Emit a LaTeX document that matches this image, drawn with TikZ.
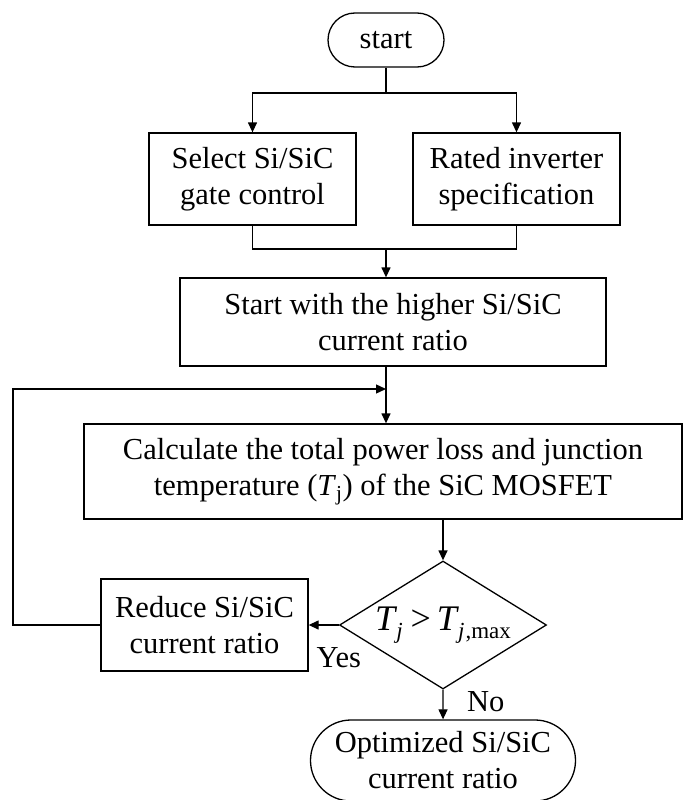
\documentclass[tikz,border=0pt]{standalone}
\usepackage{fontspec}
\setmainfont{Liberation Serif}
\usepackage{tikz}
\usetikzlibrary{arrows.meta, positioning, shapes.geometric, shapes.misc}

\newcommand{\subj}[1]{\raisebox{-8pt}{\fontsize{23}{26}\selectfont #1}}

\begin{document}
\begin{tikzpicture}[
  x=1pt, y=-1pt,
  every node/.style={font=\fontsize{30.5}{36}\selectfont},
  box/.style={draw, line width=1.3pt, align=center, inner sep=0pt},
  term/.style={rounded rectangle, draw, line width=1.3pt, align=center, inner sep=0pt},
  dec/.style={diamond, draw, line width=1.3pt, inner sep=0pt, aspect=1.6},
  lbl/.style={inner sep=0pt},
  arr/.style={-{Triangle[length=10pt, width=9pt]}, line width=1.3pt},
  line/.style={line width=1.3pt}
]
  \useasboundingbox (0,0) rectangle (683,800);

  \node[term, minimum width=116pt, minimum height=54pt] (start) at (386,40) {start};
  \node[box, minimum width=207pt, minimum height=92pt] (sel)   at (252.5,179) {Select Si/SiC\\gate control};
  \node[box, minimum width=207pt, minimum height=92pt] (rated) at (516.5,179) {Rated inverter\\specification};
  \node[box, minimum width=426pt, minimum height=88pt] (high)  at (393,322)
       {Start with the higher Si/SiC\\current ratio};
  \node[box, minimum width=598pt, minimum height=95pt] (calc)  at (383,471.5)
       {Calculate the total power loss and junction\\temperature (\textit{T}\textsubscript{j}) of the SiC MOSFET};
  \node[dec, minimum width=207pt, minimum height=128pt] (cmp)  at (443,625)
       {\fontsize{36}{42}\selectfont\textit{T}\kern-1pt\subj{\textit{j}}\hspace{8pt}>\hspace{6pt}\textit{T}\kern-1pt\subj{\textit{j}\kern1pt,max}};
  \node[box, minimum width=207pt, minimum height=92pt] (red)   at (204.5,625) {Reduce Si/SiC\\current ratio};
  \node[term, minimum width=265pt, minimum height=81pt] (opt)  at (443,760.5)
       {Optimized Si/SiC\\current ratio};

  \coordinate (split) at (386,93);
  \coordinate (join)  at (386,249);
  \coordinate (fb)    at (386,389);
  \coordinate (loop)  at (13,389);

  % top branches
  \draw[line] (start) -- (split);
  \draw[arr] (split) -| (sel);
  \draw[arr] (split) -| (rated);
  \draw[line] (sel) |- (join) -| (rated);
  \draw[arr] (join) -- (join |- high.north);

  % main column
  \draw[arr] (join |- high.south) -- (join |- calc.north);
  \draw[arr] (calc.south -| cmp) -- (cmp);
  \draw[arr] (cmp) -- (red);
  \draw[arr] (cmp) -- (opt);

  % loop back
  \draw[arr] (red.west) -- (red.west -| loop) -- (loop) -- (fb);

  \node[lbl, below=22pt of cmp.west] (yes) {Yes};
  \node[lbl, below right=2pt and 24pt of cmp.south] (no) {No};
\end{tikzpicture}
\end{document}
